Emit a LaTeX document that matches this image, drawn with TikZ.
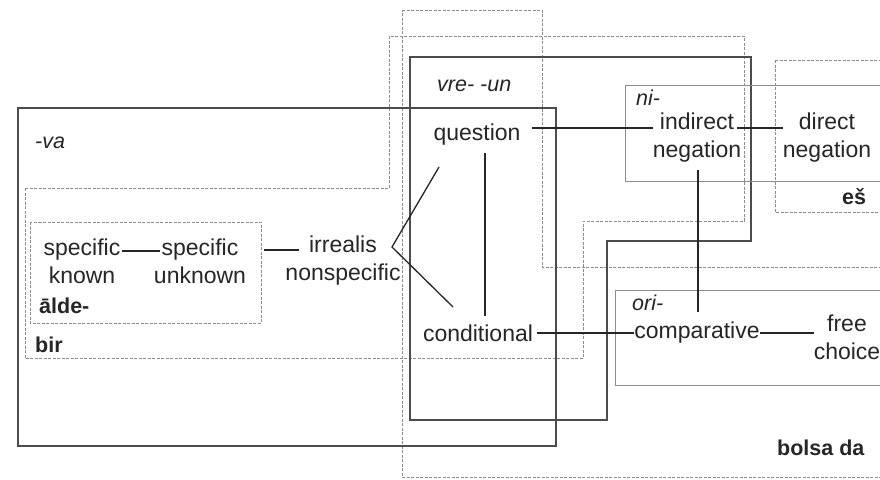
\documentclass[tikz,border=0pt]{standalone}
\usepackage{fontspec}
\setmainfont{Liberation Sans}
\begin{document}
\begin{tikzpicture}[x=1pt,y=-1pt,
  txt/.style={inner sep=0pt, text=black!85, font=\fontsize{23}{28}\selectfont, align=center},
  lab/.style={inner sep=0pt, text=black!85, font=\fontsize{21.5}{24}\selectfont\bfseries},
  ilab/.style={inner sep=0pt, text=black!85, font=\fontsize{21.5}{24}\selectfont\itshape},
  conn/.style={draw=black!85, line width=1.3pt},
  solidbox/.style={draw=black!70, line width=1.1pt},
  graybox/.style={draw=black!45, line width=0.9pt},
  dashbox/.style={draw=black!45, line width=0.9pt, dash pattern=on 3pt off 1.5pt}]
\clip (0,0) rectangle (880,479);
\fill[white] (0,0) rectangle (880,479);

% boxes
\draw[dashbox] (402,10) -- (542,10) -- (542,267) -- (890,267) -- (890,477) -- (402,477) -- cycle;
\draw[dashbox] (25,188) -- (389,188) -- (389,36) -- (744,36) -- (744,221) -- (583,221) -- (583,358) -- (25,358) -- cycle;
\draw[solidbox] (18,108) rectangle (556,446);
\draw[solidbox] (410,57) -- (751,57) -- (751,241) -- (607,241) -- (607,420) -- (410,420) -- cycle;
\draw[dashbox] (30,222) rectangle (261,323);
\draw[graybox] (625,85) rectangle (890,181);
\draw[dashbox] (775,60) rectangle (890,212);
\draw[graybox] (615,290) rectangle (890,385);

% labels
\node[ilab, anchor=west] (va) at (35,143) {-va};
\node[ilab, anchor=west] (vre) at (437,86) {vre- -un};
\node[ilab, anchor=west] (ni) at (636,98) {ni-};
\node[ilab, anchor=west] (ori) at (632,303) {ori-};
\node[lab, anchor=west] (alde) at (39,306) {ālde-};
\node[lab, anchor=west] (bir) at (35,345) {bir};
\node[lab, anchor=west] (es) at (842,197) {eš};
\node[lab, anchor=west] (bolsa) at (777,448) {bolsa da};

% content nodes
\node[txt] (sk) at (82,261) {specific\\known};
\node[txt] (su) at (200,261) {specific\\unknown};
\node[txt] (irr) at (343,261) {irrealis\\nonspecific};
\node[txt] (q) at (477,135) {question};
\node[txt] (cond) at (478,333) {conditional};
\node[txt] (ind) at (697,138) {indirect\\negation};
\node[txt] (dir) at (827,138) {direct\\negation};
\node[txt] (comp) at (697,333) {comparative};
\node[txt] (fc) at (847,337) {free\\choice};

% connector helper points
\coordinate (v) at (392,247);
\coordinate (qa) at (439,167);
\coordinate (ca) at (453,307);
\coordinate (qb) at (485,153);
\coordinate (cb) at (485,316);
\coordinate (sue) at (264,250);
\coordinate (irw) at (299,250);

% connectors
\draw[conn] (sk.north east |- 0,251) ++(1,0) -- (160,251);
\draw[conn] (sue) -- (irw);
\draw[conn] (qa) -- (v) -- (ca);
\draw[conn] (qb) -- (cb);
\draw[conn] (532,128) -- (ind.west |- 0,128);
\draw[conn] (737,128) -- (dir.west |- 0,128);
\draw[conn] (698,170) -- (698,312);
\draw[conn] ([xshift=4pt]cond.east) -- (comp.west);
\draw[conn] (comp.east) -- (fc.west |- comp.east);
\end{tikzpicture}
\end{document}
